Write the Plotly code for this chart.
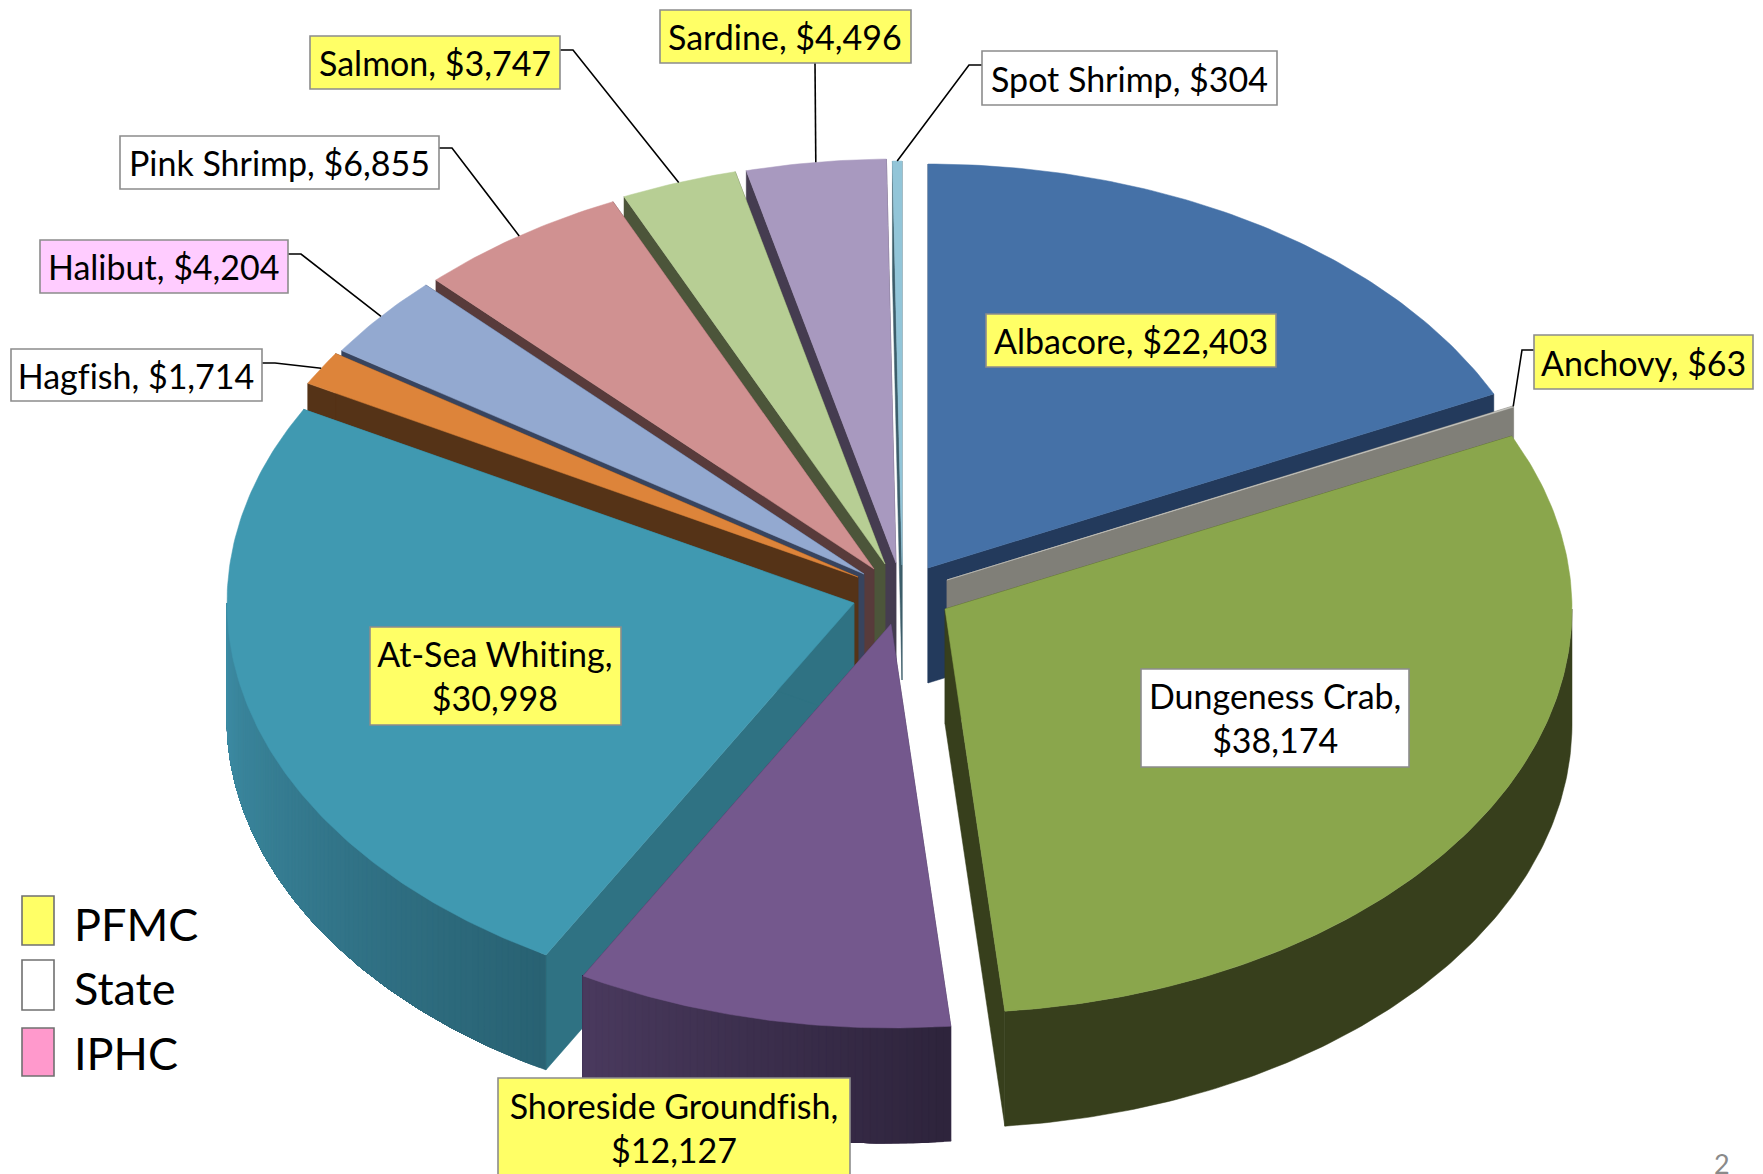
import math
import plotly.graph_objects as go

# ---------- data ----------
names = ["Albacore", "Anchovy", "Dungeness Crab", "Shoreside Groundfish", "At-Sea Whiting",
         "Hagfish", "Halibut", "Pink Shrimp", "Salmon", "Sardine", "Spot Shrimp"]
values = [22403, 63, 38174, 12127, 30998, 1714, 4204, 6855, 3747, 4496, 304]
agency = ["PFMC", "PFMC", "State", "PFMC", "PFMC", "State", "IPHC", "State", "PFMC", "PFMC", "State"]
legend_names = ["PFMC", "State", "IPHC"]

# ---------- styling / layout ----------
W, H = 1763, 1174
RX, RY = 627, 404
DEPTH = 115
apex_x = [928, 947, 945, 891, 854, 858, 864, 874, 885, 896, 902]
apex_y = [568, 580, 609, 624, 603, 577, 574, 569, 564, 563, 565]
top_col = ["#4571a7", "#c9c9c2", "#8aa64c", "#74588d", "#4099b1", "#dd843a", "#93a9d0",
           "#d09191", "#b7ce94", "#a899bf", "#92c5d8"]
wall_col = ["#233a5c", "#807f78", "#373f1c", "#3b2d50", "#2f7283", "#553317", "#38445e",
            "#583b3b", "#4c553a", "#453c50", "#3d5e6b"]
grad_light = {3: (74, 58, 94), 4: (63, 142, 166)}
grad_dark = {3: (46, 36, 60), 4: (41, 98, 115)}
paint_order = [0, 10, 9, 8, 7, 6, 5, 4, 1, 2, 3]
fills = {"PFMC": "#ffff66", "State": "#ffffff", "IPHC": "#ffccff"}
legend_fill = {"PFMC": "#ffff66", "State": "#ffffff", "IPHC": "#ff99cc"}
box = {  # x0, x1, y0, y1
    0: (986, 1276, 314, 367), 1: (1534, 1753, 335, 389), 2: (1141, 1409, 669, 767),
    3: (498, 850, 1078, 1190), 4: (370, 621, 627, 725), 5: (11, 262, 349, 401),
    6: (40, 288, 240, 293), 7: (120, 439, 136, 189), 8: (310, 560, 36, 89),
    9: (660, 911, 10, 63), 10: (982, 1277, 51, 105)}
two_line = {2, 3, 4}
leader_elbow = {1: [(1522, 350), (1534, 350)], 5: [(275, 363), (262, 363)],
                6: [(301, 254), (288, 254)], 7: [(452, 148), (439, 148)],
                8: [(573, 50), (560, 50)], 9: [(815, 63)], 10: [(969, 65), (982, 65)]}
FONT = "Lato"
LABEL_SIZE = 34

total = sum(values)
bounds = [0.0]
for v in values:
    bounds.append(bounds[-1] + v / total * 360)


def rim(i, deg):
    t = math.radians(deg)
    return apex_x[i] + RX * math.sin(t), apex_y[i] - RY * math.cos(t)


def down(p):
    return (p[0], p[1] + DEPTH)


fig = go.Figure()


def poly(pts, color):
    xs = [p[0] for p in pts] + [pts[0][0]]
    ys = [p[1] for p in pts] + [pts[0][1]]
    fig.add_trace(go.Scatter(x=xs, y=ys, mode="lines", fill="toself", fillcolor=color,
                             line=dict(color=color, width=0.5), hoverinfo="skip",
                             showlegend=False))


for i in paint_order:
    a0, a1 = bounds[i], bounds[i + 1]
    c = (apex_x[i], apex_y[i])
    n = max(3, int((a1 - a0) * 1.5))
    angs = [a0 + (a1 - a0) * k / n for k in range(n + 1)]
    rims = [rim(i, a) for a in angs]
    # radial cut walls
    for p in (rims[0], rims[-1]):
        poly([c, p, down(p), down(c)], wall_col[i])
    # outer wall: only the front half of the rim can be seen
    w0, w1 = max(a0, 90.0), min(a1, 270.0)
    if w1 > w0:
        m = max(3, int((w1 - w0) * 1.5))
        front = [rim(i, w0 + (w1 - w0) * k / m) for k in range(m + 1)]
        for k in range(m):
            if i in grad_light:
                f = 1 - (k + 0.5) / m
                l, d = grad_light[i], grad_dark[i]
                col = "rgb(%d,%d,%d)" % tuple(l[j] + (d[j] - l[j]) * f for j in range(3))
            else:
                if k > 0:
                    break
                col = wall_col[i]
            part = front[k:]
            poly(part + [down(q) for q in reversed(part)], col)
    # top face
    poly([c] + rims, top_col[i])

# label boxes, text and leader lines
shapes = []
annotations = []
for i, nm in enumerate(names):
    x0, x1, y0, y1 = box[i]
    mid = (bounds[i] + bounds[i + 1]) / 2
    if i in leader_elbow:
        pts = [rim(i, mid)] + leader_elbow[i]
        path = "M" + " L".join(f"{a:.1f},{b:.1f}" for a, b in pts)
        shapes.append(dict(type="path", path=path, xref="x", yref="y",
                           line=dict(color="#000000", width=1.6)))
    shapes.append(dict(type="rect", x0=x0, x1=x1, y0=y0, y1=y1, xref="x", yref="y",
                       fillcolor=fills[agency[i]], line=dict(color="#8c8c8c", width=1.6)))
    money = f"${values[i]:,}"
    txt = f"{nm},<br>{money}" if i in two_line else f"{nm}, {money}"
    if i == 3:
        ycen = 1127
    elif i in two_line:
        ycen = (y0 + y1) / 2 - 0.5
    else:
        ycen = (y0 + y1) / 2
    annotations.append(dict(x=(x0 + x1) / 2 - 0.5, y=ycen, xref="x", yref="y", text=txt,
                            showarrow=False, xanchor="center", yanchor="middle", align="center",
                            font=dict(family=FONT, size=LABEL_SIZE, color="#000000")))

# legend
leg_y = [(896, 945), (960, 1010), (1028, 1076)]
leg_text_y = [923.5, 988, 1053]
for nm, (y0, y1), ty in zip(legend_names, leg_y, leg_text_y):
    shapes.append(dict(type="rect", x0=22, x1=54, y0=y0, y1=y1, xref="x", yref="y",
                       fillcolor=legend_fill[nm], line=dict(color="#707070", width=1.6)))
    annotations.append(dict(x=72, y=ty, xref="x", yref="y", text=nm, showarrow=False,
                            xanchor="left", yanchor="middle",
                            font=dict(family=FONT, size=45, color="#000000")))

annotations.append(dict(x=1722, y=1163, xref="x", yref="y", text="2", showarrow=False,
                        font=dict(family=FONT, size=27, color="#8a8a8a")))

fig.update_layout(width=W, height=H, margin=dict(l=0, r=0, t=0, b=0),
                  paper_bgcolor="#ffffff", plot_bgcolor="#ffffff",
                  shapes=shapes, annotations=annotations, showlegend=False,
                  xaxis=dict(range=[0, W], visible=False, fixedrange=True),
                  yaxis=dict(range=[H, 0], visible=False, fixedrange=True))
fig.write_html("out.html", config={"displayModeBar": False},
               post_script="document.body.style.margin='0';document.body.style.overflow='hidden';"
                           "var s=document.createElement('style');"
                           "s.textContent='svg text{font-variant-ligatures:none !important;}';"
                           "document.head.appendChild(s);")
